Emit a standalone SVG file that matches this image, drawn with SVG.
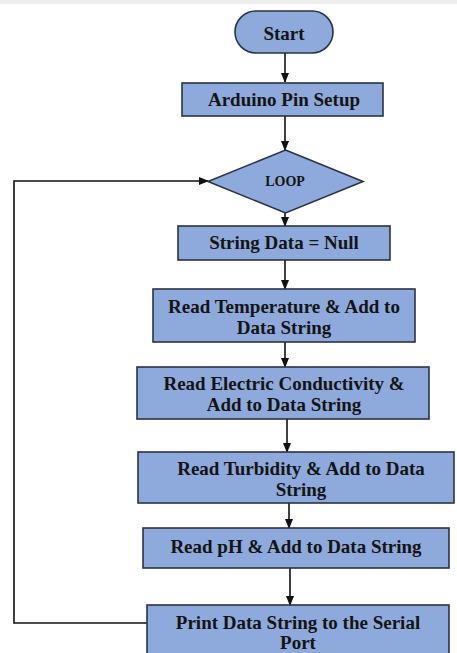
<svg xmlns="http://www.w3.org/2000/svg" width="457" height="653" viewBox="0 0 457 653">
<defs>
<style>
.n{fill:#8eaadc;stroke:#2a3344;stroke-width:1.6}
.t{font-family:'Liberation Serif','Times New Roman',serif;font-weight:bold;font-size:19px;fill:#141414;text-anchor:middle}
.c{fill:none;stroke:#111;stroke-width:1.6}
</style>
<marker id="ah" markerWidth="10" markerHeight="8" refX="9" refY="4" orient="auto" markerUnits="userSpaceOnUse">
<path d="M0,0 L10,4 L0,8 Z" fill="#111"/>
</marker>
</defs>
<rect x="0" y="0" width="457" height="653" fill="#fff"/>
<rect x="0" y="0" width="457" height="4" fill="#eeeeee"/>
<g id="connectors">
<line class="c" x1="285" y1="53" x2="285" y2="82" marker-end="url(#ah)"/>
<line class="c" x1="285" y1="116" x2="285" y2="150" marker-end="url(#ah)"/>
<line class="c" x1="285" y1="213" x2="285" y2="226" marker-end="url(#ah)"/>
<line class="c" x1="285" y1="260" x2="285" y2="289" marker-end="url(#ah)"/>
<line class="c" x1="285" y1="342" x2="285" y2="367" marker-end="url(#ah)"/>
<line class="c" x1="287" y1="419" x2="287" y2="452" marker-end="url(#ah)"/>
<line class="c" x1="289" y1="503" x2="289" y2="528" marker-end="url(#ah)"/>
<line class="c" x1="290" y1="568" x2="290" y2="605" marker-end="url(#ah)"/>
<polyline class="c" points="147,623 14,623 14,181 208,181" marker-end="url(#ah)"/>
</g>
<g id="start">
<rect class="n" x="235" y="11" width="98" height="42" rx="21"/>
<text class="t" x="284" y="40">Start</text>
</g>
<g id="pin-setup">
<rect class="n" x="182" y="83" width="201" height="33"/>
<text class="t" x="284" y="106">Arduino Pin Setup</text>
</g>
<g id="loop">
<polygon class="n" points="285.5,150 363,181.5 285.5,213 208,181.5"/>
<text class="t" x="285" y="186" style="font-size:14px">LOOP</text>
</g>
<g id="string-null">
<rect class="n" x="178" y="226" width="212" height="34"/>
<text class="t" x="284" y="249">String Data = Null</text>
</g>
<g id="read-temp">
<rect class="n" x="153" y="289" width="262" height="53"/>
<text class="t" x="284" y="313">Read Temperature &amp; Add to</text>
<text class="t" x="284" y="334">Data String</text>
</g>
<g id="read-ec">
<rect class="n" x="137" y="367" width="292" height="52"/>
<text class="t" x="284" y="390">Read Electric Conductivity &amp;</text>
<text class="t" x="284" y="411">Add to Data String</text>
</g>
<g id="read-turb">
<rect class="n" x="138" y="452" width="316" height="51"/>
<text class="t" x="301" y="475">Read Turbidity &amp; Add to Data</text>
<text class="t" x="301" y="496">String</text>
</g>
<g id="read-ph">
<rect class="n" x="143" y="528" width="306" height="40"/>
<text class="t" x="296" y="553">Read pH &amp; Add to Data String</text>
</g>
<g id="print">
<rect class="n" x="147" y="605" width="302" height="60"/>
<text class="t" x="298" y="629">Print Data String to the Serial</text>
<text class="t" x="298" y="649">Port</text>
</g>
</svg>
